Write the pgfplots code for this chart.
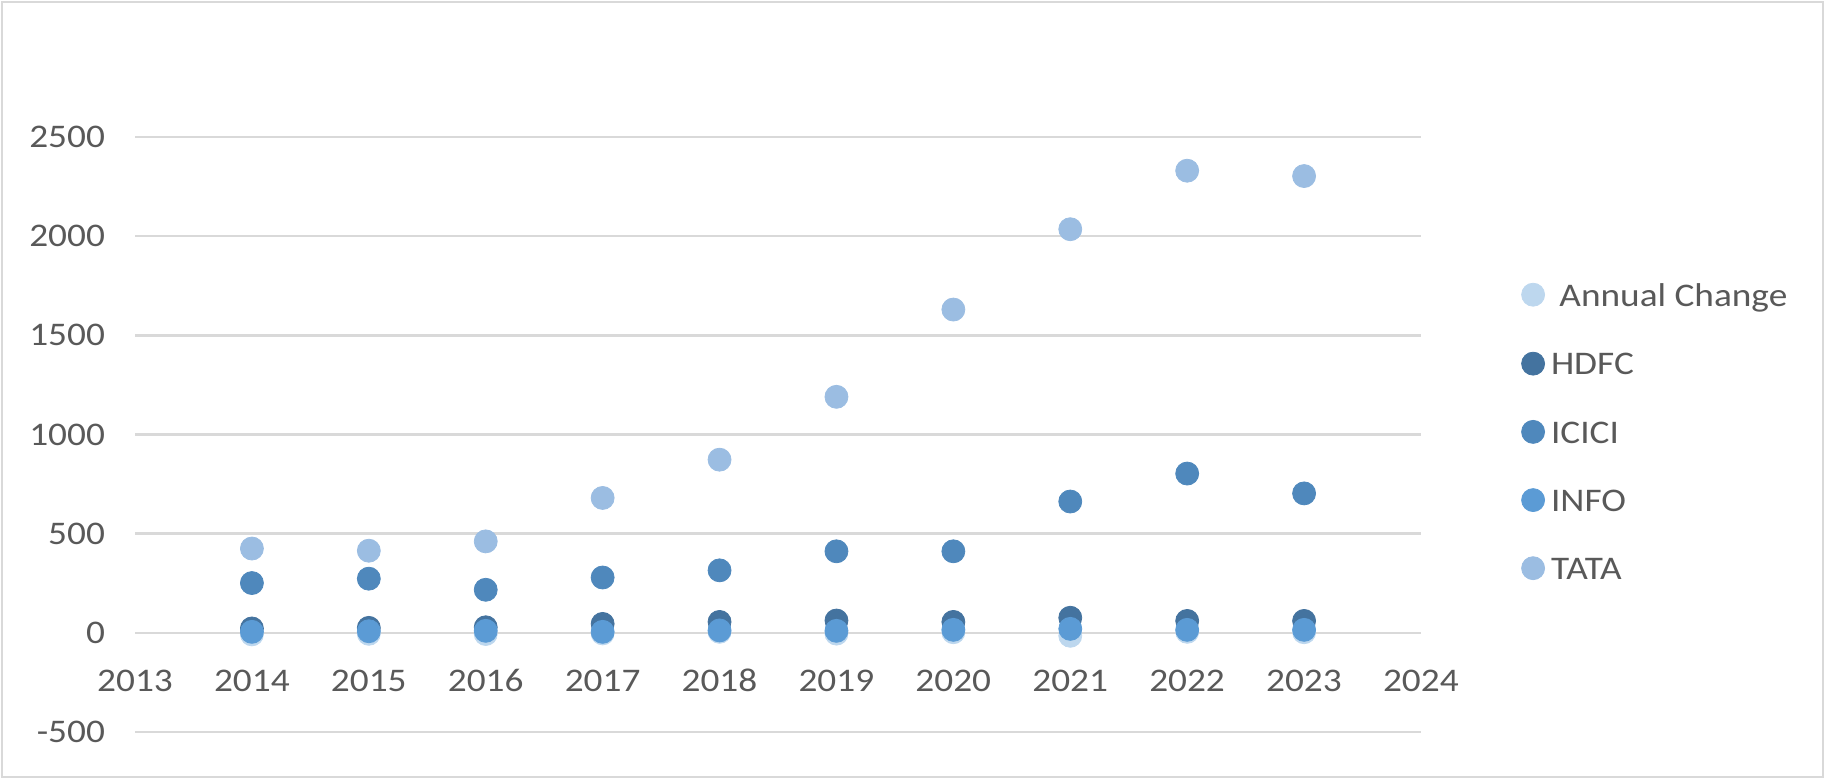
\documentclass[border=0pt]{standalone}
\usepackage{fontspec}
\setmainfont{Carlito}[FakeStretch=1.13]
\usepackage{pgfplots}
\pgfplotsset{compat=1.18}
\definecolor{acol}{HTML}{BDD7EE}
\definecolor{hdfc}{HTML}{44739F}
\definecolor{icici}{HTML}{4F88BC}
\definecolor{info}{HTML}{5B9BD5}
\definecolor{tata}{HTML}{9BBDE2}
\definecolor{gridc}{HTML}{D9D9D9}
\definecolor{txt}{HTML}{595959}
\begin{document}
\begin{tikzpicture}
\path[use as bounding box] (0pt,0pt) rectangle (912.5pt,389.5pt);
\draw[gridc, line width=1pt] (1pt,1pt) rectangle (911.5pt,388.5pt);
\begin{axis}[
  at={(67.5pt,23.5pt)}, anchor=south west,
  scale only axis, width=643pt, height=297.5pt,
  xmin=2013, xmax=2024, ymin=-500, ymax=2500,
  xtick={2013,2014,...,2024}, ytick={-500,0,500,1000,1500,2000,2500},
  ymajorgrids, grid style={gridc, line width=1.2pt},
  axis line style={draw=none}, major tick length=0pt,
  tick label style={font=\fontsize{16.5}{20}\selectfont, text=txt},
  /pgf/number format/assume math mode=true,
  /pgf/number format/1000 sep={},
  xticklabel style={anchor=north, inner sep=0pt, text height=10.4pt, text depth=0pt, yshift=31pt},
  yticklabel style={xshift=-11.5pt},
  clip=false,
  legend style={at={(1.0776,0.5025)}, anchor=west, draw=none, fill=none,
    inner sep=0pt, font=\fontsize{16.5}{20}\selectfont, text=txt,
    row sep=17.9pt, column sep=1pt},
  legend cell align=left,
  legend image code/.code={\fill[#1] (5.75pt,1pt) circle (5.75pt);},
  every axis plot/.append style={only marks, mark=*, mark size=5.75pt},
]
\addplot[color=acol, mark options={draw=acol, fill=acol}] coordinates {
(2014,-8) (2015,-5) (2016,-6) (2017,-3) (2018,5) (2019,-4) (2020,3) (2021,-15) (2022,5) (2023,3)};
\addlegendentry{\ Annual Change}
\addplot[color=hdfc, mark options={draw=hdfc, fill=hdfc}] coordinates {
(2014,22) (2015,25) (2016,28) (2017,45) (2018,55) (2019,62) (2020,55) (2021,76) (2022,60) (2023,60)};
\addlegendentry{HDFC}
\addplot[color=icici, mark options={draw=icici, fill=icici}] coordinates {
(2014,251) (2015,273) (2016,217) (2017,279) (2018,315) (2019,411) (2020,411) (2021,662) (2022,803) (2023,703)};
\addlegendentry{ICICI}
\addplot[color=info, mark options={draw=info, fill=info}] coordinates {
(2014,5) (2015,8) (2016,10) (2017,5) (2018,12) (2019,10) (2020,15) (2021,20) (2022,15) (2023,15)};
\addlegendentry{INFO}
\addplot[color=tata, mark options={draw=tata, fill=tata}] coordinates {
(2014,425) (2015,414) (2016,461) (2017,680) (2018,873) (2019,1190) (2020,1630) (2021,2035) (2022,2330) (2023,2303)};
\addlegendentry{TATA}
\end{axis}
\end{tikzpicture}
\end{document}
